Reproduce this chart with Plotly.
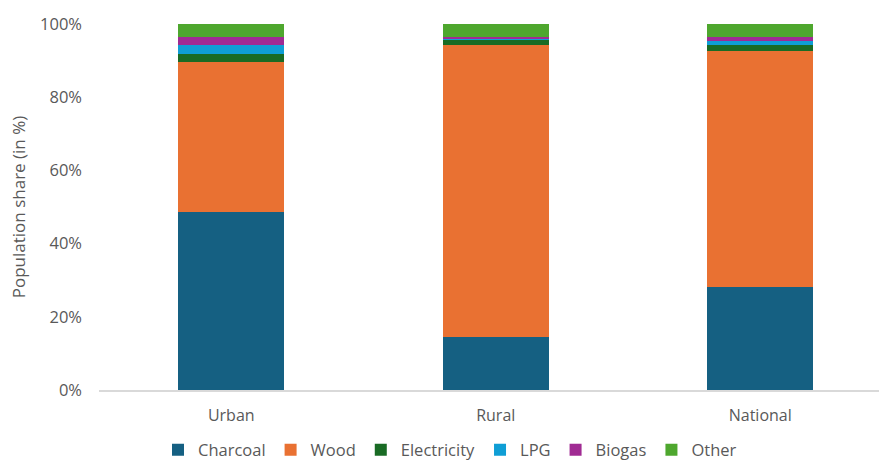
import plotly.graph_objects as go

categories = ["Urban", "Rural", "National"]
charcoal = [48.6, 14.6, 28.2]
wood = [41.1, 79.8, 64.5]
electricity = [2.1, 1.4, 1.6]
lpg = [2.5, 0.3, 1.1]
biogas = [2.2, 0.4, 1.1]
other = [3.5, 3.5, 3.5]
y_ticks = [0, 20, 40, 60, 80, 100]
y_tick_labels = ["0%", "20%", "40%", "60%", "80%", "100%"]

series = [
    ("Charcoal", charcoal, "#156082"),
    ("Wood", wood, "#E97132"),
    ("Electricity", electricity, "#196B24"),
    ("LPG", lpg, "#0F9ED5"),
    ("Biogas", biogas, "#A02B93"),
    ("Other", other, "#4EA72E"),
]

fig = go.Figure()
for name, vals, color in series:
    fig.add_trace(go.Bar(x=categories, y=vals, name=name,
                         marker=dict(color=color, line=dict(width=0))))

font_family = "Open Sans, Lato, Arial, sans-serif"
text_color = "#595959"

fig.update_layout(
    barmode="stack",
    bargap=0.6,
    width=879, height=461,
    margin=dict(l=98.5, r=0, t=24, b=71, pad=0),
    paper_bgcolor="white", plot_bgcolor="white",
    font=dict(family=font_family, color=text_color, size=16),
    showlegend=True,
    legend=dict(orientation="h", x=0.45, xanchor="center",
                yref="container", y=11/461, yanchor="middle",
                font=dict(size=16.5, color=text_color),
                itemwidth=30, traceorder="normal",
                bgcolor="rgba(0,0,0,0)"),
    xaxis=dict(range=[-0.5, 2.449], showgrid=False, showline=True,
               linecolor="#D9D9D9", linewidth=1.5, ticks="",
               tickfont=dict(size=16, color=text_color),
               ticklabelstandoff=10),
    yaxis=dict(range=[0, 100], tickvals=y_ticks, ticktext=y_tick_labels,
               showgrid=False, zeroline=False, showline=False, ticks="",
               tickfont=dict(size=16.5, color=text_color),
               ticklabelstandoff=16,
               title=dict(text="Population share (in %)",
                          font=dict(size=17, color=text_color), standoff=10)),
)

fig.write_html("out.html")
